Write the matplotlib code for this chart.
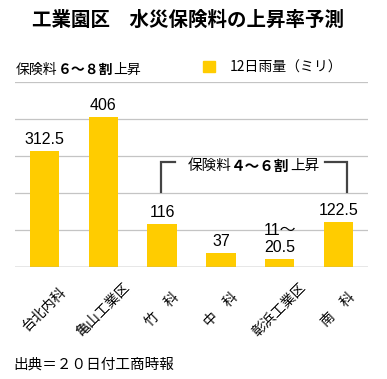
import matplotlib
matplotlib.use("Agg")
import matplotlib.pyplot as plt
from matplotlib.patches import Patch

plt.rcParams['font.family'] = ['Noto Sans CJK JP', 'DejaVu Sans']

categories = ["台北内科", "亀山工業区", "竹　科", "中　科", "彰浜工業区", "南　科"]
rain = [312.5, 406, 116, 37, 20.5, 122.5]
value_labels = ["312.5", "406", "116", "37", "11～\n20.5", "122.5"]
title = "工業園区　水災保険料の上昇率予測"
legend_label = "12日雨量（ミリ）"
source = "出典＝２０日付工商時報"

bar_color = "#FFCC00"
W, H = 387, 379
fig = plt.figure(figsize=(W / 100, H / 100), dpi=100)
ax = fig.add_axes([15 / W, 1 - 267 / H, 353 / W, 185 / H])

x = list(range(len(categories)))
ax.bar(x, rain, width=0.5, color=bar_color, zorder=2)
ax.set_xlim(-0.5, len(categories) - 0.5)
ax.set_ylim(0, 500)
ax.set_yticks([0, 100, 200, 300, 400, 500])
ax.set_yticklabels([])
ax.tick_params(axis='y', length=0)
ax.grid(axis='y', color='#c4c4c4', linewidth=0.9, zorder=0)
ax.set_axisbelow(True)
for s in ax.spines.values():
    s.set_visible(False)
ax.axhline(0, color='#a8a8a8', linewidth=1.0, zorder=3)

ax.set_xticks(x)
ax.set_xticklabels(categories, rotation=45, ha='center', va='center', fontsize=10)
ax.tick_params(axis='x', length=0, pad=31)

for xi, v, lab in zip(x, rain, value_labels):
    ax.annotate(lab, (xi, v), xytext=(0, 3), textcoords='offset points',
                ha='center', va='bottom', fontsize=11.5, linespacing=1.2,
                family=['Liberation Sans', 'Noto Sans CJK JP'], multialignment='center')

# bracket for 4~6割 group
bx0, bx1 = 1.98, 5.14
by0, by1 = 203, 284
gap0, gap1 = 2.22, 4.77
lc = '#444444'
ax.plot([bx0, bx0, gap0], [by0, by1, by1], color=lc, lw=1.6, solid_joinstyle='miter', zorder=4)
ax.plot([gap1, bx1, bx1], [by1, by1, by0], color=lc, lw=1.6, solid_joinstyle='miter', zorder=4)


def chain(parts, size, xy, xycoords):
    first_txt, first_wt = parts[0]
    t = ax.annotate(first_txt, xy, xycoords=xycoords, fontsize=size, fontweight=first_wt,
                    ha='left', va='center', annotation_clip=False)
    texts = [t]
    for txt, wt in parts[1:]:
        t = ax.annotate(txt, (1, 0.5), xycoords=texts[-1], fontsize=size, fontweight=wt,
                        ha='left', va='center', annotation_clip=False)
        texts.append(t)
    return texts


# top-left note
chain([("保険料", 'normal'), ("６～８割", 'bold'), ("上昇", 'normal')], 10,
      (16 / W, 1 - 70 / H), 'figure fraction')

# bracket label (centered)
parts2 = [("保険料", 'normal'), ("４～６割", 'bold'), ("上昇", 'normal')]
fig.canvas.draw()
r = fig.canvas.get_renderer()
tmp = [fig.text(0, 0, t, fontsize=10.5, fontweight=w) for t, w in parts2]
total = sum(t.get_window_extent(r).width for t in tmp)
for t in tmp:
    t.remove()
cx = ax.transData.transform((3.55, 273))
chain(parts2, 10.5, (cx[0] - total / 2, cx[1]), 'figure pixels')

fig.suptitle(title, x=188 / W, y=1 - 20 / H, va='center', fontsize=14, fontweight='bold')

fig.legend(handles=[Patch(color=bar_color)], labels=[legend_label], loc='center left',
           bbox_to_anchor=(203 / W, 1 - 67.5 / H), frameon=False, fontsize=10,
           handlelength=0.85, handleheight=0.8, handletextpad=1.1, borderpad=0,
           borderaxespad=0)

fig.text(13 / W, 1 - 365 / H, source, fontsize=10.5, va='center', ha='left')

fig.savefig("out.png", dpi=100)
